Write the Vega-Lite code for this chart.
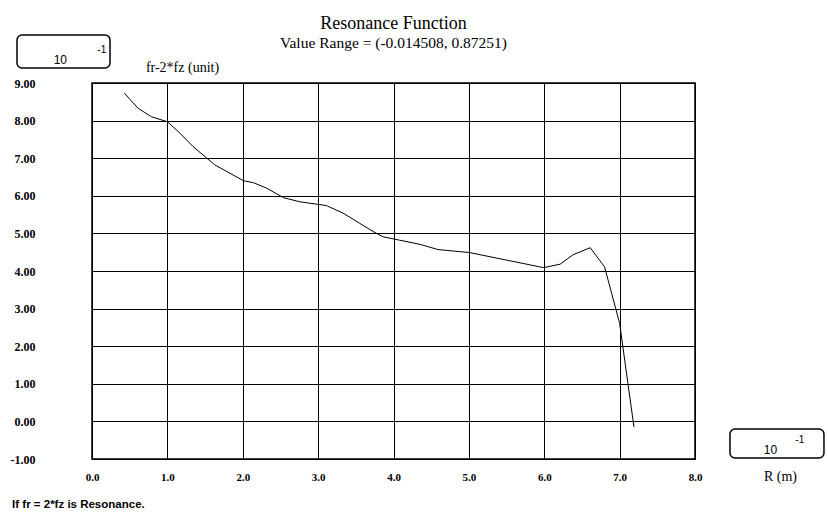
{
  "$schema": "https://vega.github.io/schema/vega-lite/v6.json",
  "width": 603,
  "height": 376,
  "autosize": {"type": "none"},
  "padding": {"left": 92, "top": 83, "right": 133, "bottom": 63},
  "background": "white",
  "title": {
    "text": "Resonance Function",
    "subtitle": "Value Range = (-0.014508, 0.87251)",
    "font": "Liberation Serif",
    "fontSize": 18,
    "fontWeight": "normal",
    "color": "black",
    "subtitleFont": "Liberation Serif",
    "subtitleFontSize": 15.5,
    "subtitleColor": "black",
    "subtitlePadding": 3,
    "anchor": "middle",
    "offset": -17
  },
  "config": {
    "view": {"stroke": "black", "strokeWidth": 1.5},
    "axis": {
      "grid": true,
      "gridColor": "black",
      "gridOpacity": 1,
      "gridWidth": 1,
      "domain": false,
      "ticks": false,
      "labelOverlap": false,
      "labelFlush": false,
      "labelFont": "Liberation Serif",
      "labelFontWeight": "bold",
      "labelFontSize": 12,
      "labelColor": "black",
      "titleFont": "Liberation Serif",
      "titleFontWeight": "normal",
      "titleColor": "black"
    }
  },
  "layer": [
    {
      "data": {
        "values": [
          {"R": 0.43, "f": 8.73}, {"R": 0.61, "f": 8.33}, {"R": 0.79, "f": 8.10},
          {"R": 1.0, "f": 7.97}, {"R": 1.17, "f": 7.66}, {"R": 1.34, "f": 7.31},
          {"R": 1.5, "f": 7.04}, {"R": 1.63, "f": 6.82}, {"R": 1.83, "f": 6.60},
          {"R": 2.01, "f": 6.40}, {"R": 2.14, "f": 6.35}, {"R": 2.32, "f": 6.20},
          {"R": 2.54, "f": 5.95}, {"R": 2.76, "f": 5.84}, {"R": 3.11, "f": 5.74},
          {"R": 3.33, "f": 5.54}, {"R": 3.55, "f": 5.27}, {"R": 3.73, "f": 5.05},
          {"R": 3.86, "f": 4.91}, {"R": 4.08, "f": 4.82}, {"R": 4.35, "f": 4.71},
          {"R": 4.59, "f": 4.57}, {"R": 5.01, "f": 4.49}, {"R": 5.5, "f": 4.29},
          {"R": 5.99, "f": 4.09}, {"R": 6.21, "f": 4.18}, {"R": 6.38, "f": 4.43},
          {"R": 6.61, "f": 4.62}, {"R": 6.8, "f": 4.11}, {"R": 7.0, "f": 2.61},
          {"R": 7.11, "f": 1.01}, {"R": 7.19, "f": -0.145}
        ]
      },
      "mark": {"type": "line", "color": "black", "strokeWidth": 1},
      "encoding": {
        "x": {
          "field": "R", "type": "quantitative",
          "scale": {"domain": [0, 8], "nice": false},
          "axis": {
            "values": [0, 1, 2, 3, 4, 5, 6, 7, 8],
            "format": ".1f",
            "labelPadding": 12,
            "labelFontSize": 11,
            "title": "R (m)",
            "titleX": 688,
            "titleY": 17,
            "titleAlign": "center",
            "titleBaseline": "middle",
            "titleFontSize": 14
          }
        },
        "y": {
          "field": "f", "type": "quantitative",
          "scale": {"domain": [-1, 9], "nice": false, "zero": false},
          "axis": {
            "values": [-1, 0, 1, 2, 3, 4, 5, 6, 7, 8, 9],
            "tickCount": 11,
            "labelExpr": "datum.value < 0 ? '-' + format(-datum.value, '.2f') : format(datum.value, '.2f')",
            "labelPadding": 57,
            "labelFontSize": 12,
            "title": "fr-2*fz (unit)",
            "titleAngle": 0,
            "titleX": 90,
            "titleY": -16,
            "titleAlign": "center",
            "titleBaseline": "middle",
            "titleFontSize": 14
          }
        }
      }
    },
    {
      "data": {"values": [{"box": "y scale"}]},
      "mark": {"type": "rect", "filled": false, "stroke": "black", "strokeWidth": 1.5, "cornerRadius": 5},
      "encoding": {
        "x": {"datum": -0.995}, "x2": {"datum": 0.239},
        "y": {"datum": 10.277}, "y2": {"datum": 9.399}
      }
    },
    {
      "data": {"values": [{"box": "x scale"}]},
      "mark": {"type": "rect", "filled": false, "stroke": "black", "strokeWidth": 1.5, "cornerRadius": 5},
      "encoding": {
        "x": {"datum": 8.464}, "x2": {"datum": 9.711},
        "y": {"datum": -0.202}, "y2": {"datum": -0.973}
      }
    },
    {
      "data": {"values": [{"t": "10"}]},
      "mark": {"type": "text", "font": "Liberation Sans", "fontSize": 12, "color": "black", "align": "center", "baseline": "middle"},
      "encoding": {"x": {"datum": -0.42}, "y": {"datum": 9.62}, "text": {"field": "t"}}
    },
    {
      "data": {"values": [{"t": "-1"}]},
      "mark": {"type": "text", "font": "Liberation Sans", "fontSize": 10, "color": "black", "align": "center", "baseline": "middle"},
      "encoding": {"x": {"datum": 0.13}, "y": {"datum": 9.88}, "text": {"field": "t"}}
    },
    {
      "data": {"values": [{"t": "10"}]},
      "mark": {"type": "text", "font": "Liberation Sans", "fontSize": 12, "color": "black", "align": "center", "baseline": "middle"},
      "encoding": {"x": {"datum": 9.0}, "y": {"datum": -0.76}, "text": {"field": "t"}}
    },
    {
      "data": {"values": [{"t": "-1"}]},
      "mark": {"type": "text", "font": "Liberation Sans", "fontSize": 10, "color": "black", "align": "center", "baseline": "middle"},
      "encoding": {"x": {"datum": 9.39}, "y": {"datum": -0.495}, "text": {"field": "t"}}
    },
    {
      "data": {"values": [{"t": "If fr = 2*fz is Resonance."}]},
      "mark": {"type": "text", "font": "Liberation Sans", "fontWeight": "bold", "fontSize": 11.5, "color": "black", "align": "left", "baseline": "middle"},
      "encoding": {"x": {"datum": -1.06}, "y": {"datum": -2.22}, "text": {"field": "t"}}
    }
  ]
}
